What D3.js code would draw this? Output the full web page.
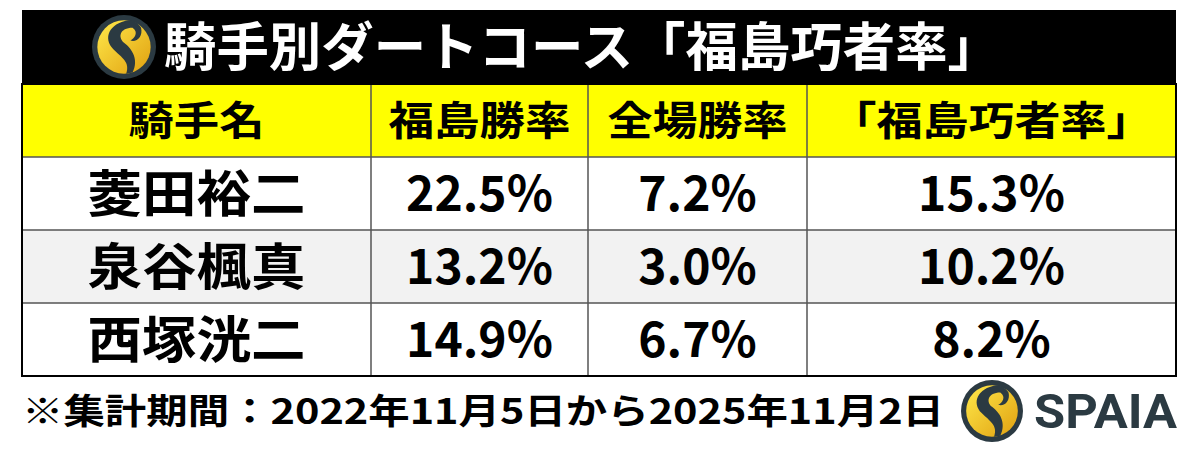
<!DOCTYPE html>
<html><head><meta charset="utf-8">
<script src="https://cdn.jsdelivr.net/npm/d3@7"></script>
<style>body{margin:0;background:#fff}svg{display:block}</style>
</head><body><div id="chart"></div>
<script>
const title = "騎手別ダートコース「福島巧者率」"
const headers = ["騎手名", "福島勝率", "全場勝率", "「福島巧者率」"]
const jockeys = ["菱田裕二", "泉谷楓真", "西塚洸二"]
const fukushimaRate = [22.5, 13.2, 14.9]
const allRate = [7.2, 3.0, 6.7]
const skillRate = [15.3, 10.2, 8.2]
const note = "※集計期間：2022年11月5日から2025年11月2日"

const W = 1200, H = 452
const font = "'Noto Sans CJK JP', 'Noto Sans', sans-serif"
let svg = d3.select("#chart").append("svg").attr("width", W).attr("height", H)

const colEdges = [22, 371, 588, 807, 1176]
const headerLen = [136, 182, 180, 322]
const rowY = d3.scaleBand().domain(d3.range(4)).range([84, 376])

let defs = svg.append("defs")
let g = defs.append("linearGradient").attr("id", "gold").attr("x1", 0).attr("y1", 0).attr("x2", 1).attr("y2", 1)
g.append("stop").attr("offset", "0%").attr("stop-color", "#ffe94a")
g.append("stop").attr("offset", "100%").attr("stop-color", "#e0a010")

function logo(cx, cy, r) {
  let l = svg.append("g").attr("transform", `translate(${cx},${cy}) scale(${r / 30})`)
  l.append("circle").attr("r", 30).attr("fill", "#2b3a42")
  l.append("circle").attr("r", 25).attr("fill", "url(#gold)")
  l.append("path").attr("fill", "#2b3a42")
    .attr("d", "M4,-25 C-14,-22 -20,-8 -10,2 C-2,10 6,14 2,25 L8,24 C14,12 8,2 0,-4 C-6,-9 -4,-18 8,-18 C14,-14 10,-8 6,-6 C12,-4 18,-10 16,-18 C13,-23 8,-25 4,-25 Z")
}

// title band
svg.append("rect").attr("x", 22).attr("y", 10).attr("width", 1154).attr("height", 74).attr("fill", "#000")
logo(124, 47, 32)
svg.append("text").attr("x", 164).attr("y", 66).attr("fill", "#fff")
  .attr("font-family", font).attr("font-weight", 700).attr("font-size", 52)
  .attr("textLength", 836).attr("lengthAdjust", "spacingAndGlyphs").text(title)

// header + rows
let rows = [headers].concat(jockeys.map((j, i) => [j, fukushimaRate[i].toFixed(1) + "%", allRate[i].toFixed(1) + "%", skillRate[i].toFixed(1) + "%"]))
rows.forEach(function(r, i) {
  svg.append("rect").attr("x", 22).attr("y", rowY(i)).attr("width", 1154).attr("height", rowY.bandwidth())
    .attr("fill", i == 0 ? "#ffff00" : (i == 2 ? "#f2f2f2" : "#fff"))
  r.forEach(function(t, c) {
    let tx = svg.append("text").attr("x", (colEdges[c] + colEdges[c + 1]) / 2).attr("y", rowY(i) + rowY.bandwidth() / 2)
      .attr("dy", "0.36em").attr("text-anchor", "middle").attr("fill", "#000")
      .attr("font-family", font).attr("font-weight", 700).attr("font-size", i == 0 ? 40 : (c == 0 ? 50 : 48)).text(t)
    if (i == 0) tx.attr("textLength", headerLen[c]).attr("lengthAdjust", "spacingAndGlyphs")
    else if (c == 0) tx.attr("textLength", 218).attr("lengthAdjust", "spacingAndGlyphs")
  })
})
d3.range(1, 4).forEach(i => svg.append("line").attr("x1", 22).attr("x2", 1176).attr("y1", rowY(i)).attr("y2", rowY(i)).attr("stroke", "#555").attr("stroke-width", 1.5))
colEdges.slice(1, 4).forEach(cx => svg.append("line").attr("x1", cx).attr("x2", cx).attr("y1", 84).attr("y2", 376).attr("stroke", "#555").attr("stroke-width", 1.5))
svg.append("rect").attr("x", 22).attr("y", 84).attr("width", 1154).attr("height", 292).attr("fill", "none").attr("stroke", "#000").attr("stroke-width", 2)

// footer
svg.append("text").attr("x", 22).attr("y", 424).attr("fill", "#000")
  .attr("font-family", font).attr("font-weight", 700).attr("font-size", 35)
  .attr("textLength", 922).attr("lengthAdjust", "spacingAndGlyphs").text(note)
logo(992, 411, 31)
svg.append("text").attr("x", 1034).attr("y", 428).attr("fill", "#2b3a42")
  .attr("font-family", "Roboto, sans-serif").attr("font-weight", 700).attr("font-size", 48)
  .attr("textLength", 143).attr("lengthAdjust", "spacingAndGlyphs").text("SPAIA")
</script></body></html>
